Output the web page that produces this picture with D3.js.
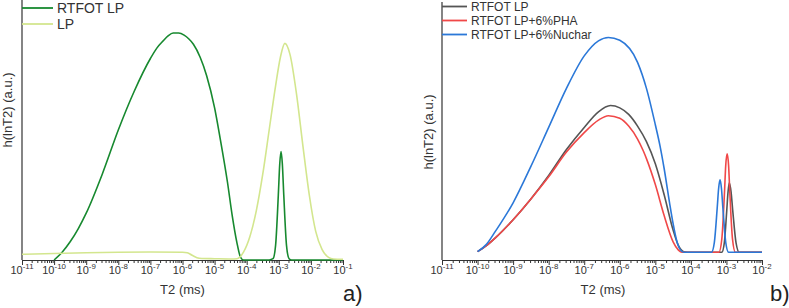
<!DOCTYPE html>
<html><head><meta charset="utf-8">
<script src="https://cdn.jsdelivr.net/npm/d3@7/dist/d3.min.js"></script>
<style>body{margin:0;background:#fff}svg{display:block;font-family:"Liberation Sans",Arial,sans-serif}</style>
</head><body><svg id="c" width="789" height="308"></svg>
<script>
// ---- Panel a) data: log10(T2 / ms) and h(lnT2) in a.u. ----
const aTicks = [-11,-10,-9,-8,-7,-6,-5,-4,-3,-2,-1];
const aRtfotE = [-10,-9.75,-9.5,-9.25,-9,-8.5,-8,-7.5,-7,-6.8,-6.6,-6.45,-6.29,-6.12,-5.95,-5.8,-5.66,-5.45,-5.25,-5.0,-4.83,-4.6,-4.45,-4.31,-4.19,-4.1,-3.3,-3.18,-3.1,-3.015,-2.97,-2.93,-2.89,-2.845,-2.76,-2.68,-2.6,-1];
const aRtfotH = [0,3,7,12,18,33,50,65,77.5,81.5,84.3,86.2,87.3,87.3,86.5,85,83,78,71,58.5,47,30,17,7,1,0,0,0.5,5.6,25,37,41.7,37,25,5.6,0.5,0,0];
const aLpE = [-11,-10,-9,-8,-7,-6,-5.85,-5.7,-5.55,-5.4,-5,-4.5,-4.3,-4.1,-3.9,-3.7,-3.5,-3.3,-3.1,-2.95,-2.81,-2.65,-2.45,-2.25,-2.05,-1.85,-1.65,-1.45,-1.3,-1];
const aLpH = [2.2,2.5,2.8,3.0,3.1,3.0,2.8,1.8,0.9,0.6,0.5,0.4,0.5,3,9,19,33,50,67,78,83.3,79,64,44,25,11,4,1,0.4,0.3];

// ---- Panel b) data ----
const bTicks = [-11,-10,-9,-8,-7,-6,-5,-4,-3,-2];
const bRtfotE = [-10,-9.75,-9.5,-9,-8.5,-8,-7.5,-7,-6.6,-6.26,-6,-5.75,-5.5,-5.25,-5,-4.75,-4.5,-4.35,-4.2,-4.1,-3.13,-3.06,-2.99,-2.955,-2.92,-2.87,-2.825,-2.73,-2.64,-2];
const bRtfotH = [3.2,5.5,8.5,15.5,23.5,32.5,42.5,51,57,59.4,58.5,56,51.5,45.5,37,25,11.5,5.5,3.2,3,3,6.6,19.3,26.2,29.7,26.2,19.3,6.6,3,3];
const bPhaE = [-10,-9.75,-9.5,-9,-8.5,-8,-7.5,-7,-6.6,-6.32,-6,-5.75,-5.5,-5.34,-5.25,-5,-4.75,-4.5,-4.35,-4.25,-3.21,-3.13,-3.055,-3.02,-2.98,-2.94,-2.905,-2.83,-2.75,-2];
const bPhaH = [3.2,5.5,8.5,15.5,23.5,32,41.5,49,53.8,55.5,54.5,51.5,46.5,42,39,29,17,7,3.8,3,3,8.1,26,36.4,40.8,36.4,26,8.1,3,3];
const bNucE = [-10,-9.75,-9.5,-9,-8.5,-8,-7.5,-7,-6.6,-6.32,-6,-5.5,-5.25,-5,-4.87,-4.75,-4.6,-4.5,-4.4,-4.3,-4.2,-3.42,-3.34,-3.26,-3.22,-3.18,-3.14,-3.1,-3.02,-2.94,-2];
const bNucH = [3.2,6,11,22,36,51,66,78.5,84.3,85.6,84.5,76,66,52,44,35,22,14,7.5,4,3,3,6.8,20,27.5,30.8,27.5,20,6.8,3,3];

const svg = d3.select("#c");

function panel(cfg){
  const x = d3.scaleLog().domain([Math.pow(10,cfg.ticks[0]), Math.pow(10,cfg.ticks[cfg.ticks.length-1])]).range([cfg.x0, cfg.x1]);
  const y = d3.scaleLinear().domain([0,100]).range([cfg.yb, 0]);
  const g = svg.append("g");
  g.append("line").attr("x1",cfg.x0).attr("x2",cfg.x0).attr("y1",cfg.yTop).attr("y2",cfg.yb).attr("stroke","#333").attr("stroke-width",1.2);
  const major = cfg.ticks.map(e=>Math.pow(10,e));
  const minor = [];
  cfg.ticks.slice(0,-1).forEach(e=>{ for(let m=2;m<=9;m++) minor.push(m*Math.pow(10,e)); });
  const gx = g.append("g").attr("transform",`translate(0,${cfg.yb})`);
  gx.call(d3.axisBottom(x).tickValues(minor).tickSize(3).tickSizeOuter(0).tickFormat("")).call(s=>{s.select(".domain").attr("stroke","#333").attr("stroke-width",1.2);s.selectAll(".tick line").attr("stroke","#333");});
  const gm = g.append("g").attr("transform",`translate(0,${cfg.yb})`);
  gm.call(d3.axisBottom(x).tickValues(major).tickSize(5).tickFormat("")).call(s=>{s.select(".domain").remove();s.selectAll(".tick line").attr("stroke","#333");});
  cfg.ticks.forEach(e=>{
    const t = g.append("text").attr("x", x(Math.pow(10,e))).attr("y", cfg.yb+14).attr("text-anchor","middle").attr("fill","#333").attr("font-size",cfg.tickFs);
    t.append("tspan").text("10");
    t.append("tspan").attr("dy",-5).attr("font-size",cfg.tickFs*0.72).text("-"+Math.abs(e));
  });
  g.append("text").attr("x",(cfg.x0+cfg.x1)/2+cfg.xtDx).attr("y",cfg.yb+34).attr("text-anchor","middle").attr("fill","#333").attr("font-size",cfg.titleFs).text("T2 (ms)");
  g.append("text").attr("transform",`translate(${cfg.ytX},${cfg.ytY}) rotate(-90)`).attr("text-anchor","middle").attr("fill","#333").attr("font-size",cfg.titleFs).text("h(lnT2) (a.u.)");
  g.append("text").attr("x",cfg.tagX).attr("y",301).attr("fill","#222").attr("font-size",22).text(cfg.tag);
  const line = d3.line().x(d=>x(Math.pow(10,d[0]))).y(d=>y(d[1])).curve(d3.curveMonotoneX);
  cfg.series.forEach(s=>{
    const pts = s.e.map((e,j)=>[e,s.h[j]]);
    g.append("path").attr("d",line(pts)).attr("fill","none").attr("stroke",s.color).attr("stroke-width",1.6);
  });
  cfg.series.forEach((s,i)=>{
    const ly = cfg.legY + i*cfg.legDy;
    g.append("line").attr("x1",cfg.x0).attr("x2",cfg.x0+cfg.legLen).attr("y1",ly).attr("y2",ly).attr("stroke",s.color).attr("stroke-width",1.8);
    g.append("text").attr("x",cfg.x0+cfg.legLen+4).attr("y",ly).attr("dy","0.35em").attr("fill","#333").attr("font-size",cfg.legFs).text(s.name);
  });
}

panel({ticks:aTicks,x0:22,x1:343,yb:260,yTop:0,tickFs:11,titleFs:13,xtDx:0,ytX:12,ytY:110,tag:"a)",tagX:343,
  legY:8,legDy:16,legLen:31,legFs:14,
  series:[{name:"RTFOT LP",e:aRtfotE,h:aRtfotH,color:"#17892f"},{name:"LP",e:aLpE,h:aLpH,color:"#d3e68e"}]});
panel({ticks:bTicks,x0:442,x1:762,yb:260,yTop:2,tickFs:11,titleFs:13,xtDx:1,ytX:433,ytY:132,tag:"b)",tagX:770,
  legY:6.5,legDy:14,legLen:25,legFs:12,
  series:[{name:"RTFOT LP",e:bRtfotE,h:bRtfotH,color:"#555555"},{name:"RTFOT LP+6%PHA",e:bPhaE,h:bPhaH,color:"#f04848"},{name:"RTFOT LP+6%Nuchar",e:bNucE,h:bNucH,color:"#2b78d8"}]});
</script></body></html>
